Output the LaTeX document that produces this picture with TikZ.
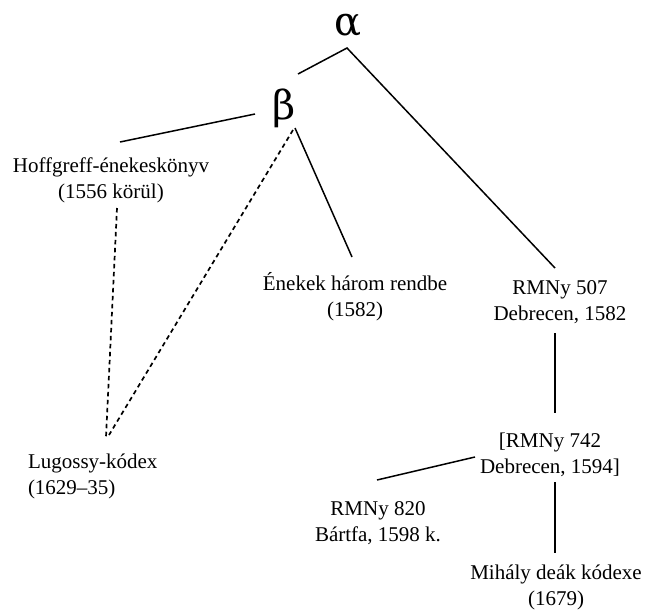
\documentclass[tikz,border=0pt]{standalone}
\usepackage{fontspec}
\setmainfont{Liberation Serif}
\newfontfamily\greekfont{DejaVu Serif}
\newcommand\twolines[3]{\begin{tabular}[t]{@{}#1@{}}#2\\#3\end{tabular}}
\begin{document}
\begin{tikzpicture}[x=1pt,y=-1pt,
  every node/.style={inner sep=0pt, outer sep=0pt},
  witness/.style={font=\fontsize{21}{26}\selectfont, anchor=base},
  greek/.style={font=\greekfont\fontsize{40}{46}\selectfont, anchor=base},
  link/.style={line width=1.5pt},
  guess/.style={line width=1.7pt, dash pattern=on 4.5pt off 3.5pt}]
\useasboundingbox (0,0) rectangle (646,611);

% hypothetical sources
\node[greek] (alpha) at (348,35) {α};
\node[greek] (beta)  at (284,119) {β};

% surviving witnesses
\node[witness] (hoff)    at (111,172) {\twolines{c}{Hoffgreff-énekeskönyv}{(1556 körül)}};
\node[witness] (enek)    at (355,290) {\twolines{c}{Énekek három rendbe}{(1582)}};
\node[witness] (r507)    at (560,294) {\twolines{c}{RMNy 507}{Debrecen, 1582}};
\node[witness] (r742)    at (550,447) {\twolines{c}{[RMNy 742}{Debrecen, 1594]}};
\node[witness] (r820)    at (378,515) {\twolines{c}{RMNy 820}{Bártfa, 1598 k.}};
\node[witness] (mihaly)  at (556,579) {\twolines{c}{Mihály deák kódexe}{(1679)}};
\node[witness, anchor=base west] (lugossy) at (28,468) {\twolines{l}{Lugossy-kódex}{(1629–35)}};

% line ends
\coordinate (alphaL) at (298,74);
\coordinate (alphaT) at (347,48);
\coordinate (r507T)  at (555,268);
\coordinate (betaL)  at (255,114);
\coordinate (hoffT)  at (120,142);
\coordinate (betaB)  at (295,128);
\coordinate (enekT)  at (352,257);
\coordinate (betaD)  at (293,130);
\coordinate (hoffB)  at (117,208);
\coordinate (lugT)   at (106,437);
\coordinate (lugTr)  at (109,435);
\coordinate (r507B)  at (555,333);
\coordinate (r742T)  at (555,413);
\coordinate (r742L)  at (475,457);
\coordinate (r820T)  at (377,480);
\coordinate (r742B)  at (555,482);
\coordinate (mihT)   at (555,553);

% stemma
\draw[link] (alphaL) -- (alphaT) -- (r507T);
\draw[link] (betaL) -- (hoffT);
\draw[link] (betaB) -- (enekT);
\draw[guess] (betaD) -- (lugTr);
\draw[guess] (hoffB) -- (lugT);
\draw[link] (r507B) -- (r742T);
\draw[link] (r742L) -- (r820T);
\draw[link] (r742B) -- (mihT);
\end{tikzpicture}
\end{document}
